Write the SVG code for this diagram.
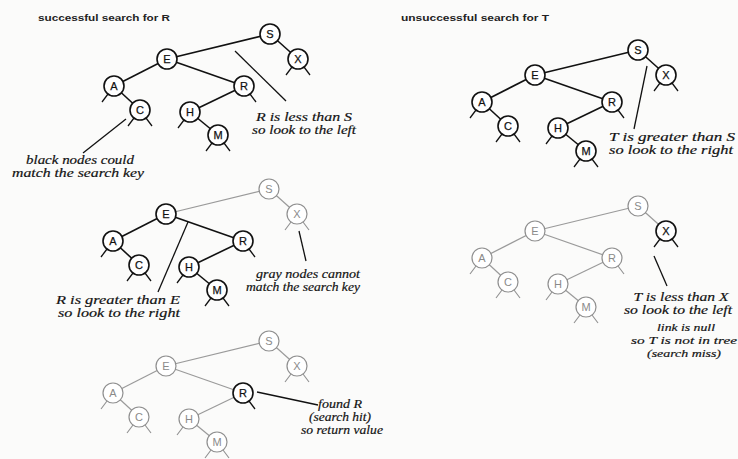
<svg xmlns="http://www.w3.org/2000/svg" width="738" height="459" viewBox="0 0 738 459">
<style>
.bg{fill:#fbfbfa}
.n circle{fill:#fff;stroke:#111;stroke-width:1.6}
.n text{font-family:"Liberation Sans",Arial,sans-serif;font-size:11px;fill:#111;stroke:#111;stroke-width:0.25;text-anchor:middle}
.n line{stroke:#111;stroke-width:1.3}
.g circle{stroke:#8f8f8f;stroke-width:1.2}
.g text{fill:#8a8a8a;stroke:none}
.g line{stroke:#8f8f8f;stroke-width:1.1}
.e{stroke:#111;stroke-width:1.6;fill:none}
.eg{stroke:#9a9a9a;stroke-width:1.2;fill:none}
.title{font-family:"Liberation Sans",Arial,sans-serif;font-size:9px;font-weight:bold;fill:#222}
.ann{font-family:"Liberation Serif","Times New Roman",serif;font-style:italic;font-size:12.5px;fill:#111;stroke:#111;stroke-width:0.18;text-anchor:middle}
.sm{font-size:11px}
.pt{stroke:#111;stroke-width:1.3}
</style>
<rect class="bg" width="738" height="459"/>
<text class="title" x="38" y="21" textLength="132" lengthAdjust="spacingAndGlyphs">successful search for R</text>
<text class="title" x="401" y="21" textLength="148" lengthAdjust="spacingAndGlyphs">unsuccessful search for T</text>

<g id="connectors">
  <line class="e" x1="270" y1="34" x2="167" y2="59"/>
  <line class="e" x1="270" y1="34" x2="298" y2="59"/>
  <line class="e" x1="167" y1="59" x2="114" y2="86"/>
  <line class="e" x1="167" y1="59" x2="244" y2="86"/>
  <line class="e" x1="114" y1="86" x2="140" y2="110"/>
  <line class="e" x1="244" y1="86" x2="190" y2="112"/>
  <line class="e" x1="190" y1="112" x2="218" y2="135"/>
  <line class="e" x1="638" y1="50" x2="535" y2="75"/>
  <line class="e" x1="638" y1="50" x2="666" y2="75"/>
  <line class="e" x1="535" y1="75" x2="482" y2="102"/>
  <line class="e" x1="535" y1="75" x2="612" y2="102"/>
  <line class="e" x1="482" y1="102" x2="508" y2="126"/>
  <line class="e" x1="612" y1="102" x2="558" y2="128"/>
  <line class="e" x1="558" y1="128" x2="586" y2="151"/>
  <line class="eg" x1="269" y1="189" x2="166" y2="214"/>
  <line class="eg" x1="269" y1="189" x2="297" y2="214"/>
  <line class="e" x1="166" y1="214" x2="113" y2="241"/>
  <line class="e" x1="166" y1="214" x2="243" y2="241"/>
  <line class="e" x1="113" y1="241" x2="139" y2="265"/>
  <line class="e" x1="243" y1="241" x2="189" y2="267"/>
  <line class="e" x1="189" y1="267" x2="217" y2="290"/>
  <line class="eg" x1="638" y1="206" x2="535" y2="231"/>
  <line class="eg" x1="638" y1="206" x2="666" y2="231"/>
  <line class="eg" x1="535" y1="231" x2="482" y2="258"/>
  <line class="eg" x1="535" y1="231" x2="612" y2="258"/>
  <line class="eg" x1="482" y1="258" x2="508" y2="282"/>
  <line class="eg" x1="612" y1="258" x2="558" y2="284"/>
  <line class="eg" x1="558" y1="284" x2="586" y2="307"/>
  <line class="eg" x1="269" y1="341" x2="166" y2="366"/>
  <line class="eg" x1="269" y1="341" x2="297" y2="366"/>
  <line class="eg" x1="166" y1="366" x2="113" y2="393"/>
  <line class="eg" x1="166" y1="366" x2="243" y2="393"/>
  <line class="eg" x1="113" y1="393" x2="139" y2="417"/>
  <line class="eg" x1="243" y1="393" x2="189" y2="419"/>
  <line class="eg" x1="189" y1="419" x2="217" y2="442"/>
  <line class="pt" x1="235" y1="51" x2="286" y2="101"/>
  <line class="pt" x1="126" y1="119" x2="83" y2="153"/>
  <line class="pt" x1="647" y1="66" x2="634" y2="129"/>
  <line class="pt" x1="188" y1="222" x2="158" y2="292"/>
  <line class="pt" x1="299" y1="231" x2="306" y2="261"/>
  <line class="pt" x1="654" y1="256" x2="667" y2="286"/>
  <line class="pt" x1="257" y1="392" x2="318" y2="405"/>
</g>

<g id="t1-S" class="n"><circle cx="270" cy="34" r="10"/><text x="270" y="38">S</text></g>
<g id="t1-X" class="n"><circle cx="298" cy="59" r="10"/><text x="298" y="63">X</text><line x1="292" y1="67" x2="286" y2="75"/><line x1="304" y1="67" x2="310" y2="75"/></g>
<g id="t1-E" class="n"><circle cx="167" cy="59" r="10"/><text x="167" y="63">E</text></g>
<g id="t1-A" class="n"><circle cx="114" cy="86" r="10"/><text x="114" y="90">A</text><line x1="108" y1="94" x2="102" y2="102"/></g>
<g id="t1-C" class="n"><circle cx="140" cy="110" r="10"/><text x="140" y="114">C</text><line x1="134" y1="118" x2="128" y2="126"/><line x1="146" y1="118" x2="152" y2="126"/></g>
<g id="t1-R" class="n"><circle cx="244" cy="86" r="10"/><text x="244" y="90">R</text><line x1="250" y1="94" x2="256" y2="102"/></g>
<g id="t1-H" class="n"><circle cx="190" cy="112" r="10"/><text x="190" y="116">H</text><line x1="184" y1="120" x2="178" y2="128"/></g>
<g id="t1-M" class="n"><circle cx="218" cy="135" r="10"/><text x="218" y="139">M</text><line x1="212" y1="143" x2="206" y2="151"/><line x1="224" y1="143" x2="230" y2="151"/></g>

<g id="t2-S" class="n"><circle cx="638" cy="50" r="10"/><text x="638" y="54">S</text></g>
<g id="t2-X" class="n"><circle cx="666" cy="75" r="10"/><text x="666" y="79">X</text><line x1="660" y1="83" x2="654" y2="91"/><line x1="672" y1="83" x2="678" y2="91"/></g>
<g id="t2-E" class="n"><circle cx="535" cy="75" r="10"/><text x="535" y="79">E</text></g>
<g id="t2-A" class="n"><circle cx="482" cy="102" r="10"/><text x="482" y="106">A</text><line x1="476" y1="110" x2="470" y2="118"/></g>
<g id="t2-C" class="n"><circle cx="508" cy="126" r="10"/><text x="508" y="130">C</text><line x1="502" y1="134" x2="496" y2="142"/><line x1="514" y1="134" x2="520" y2="142"/></g>
<g id="t2-R" class="n"><circle cx="612" cy="102" r="10"/><text x="612" y="106">R</text><line x1="618" y1="110" x2="624" y2="118"/></g>
<g id="t2-H" class="n"><circle cx="558" cy="128" r="10"/><text x="558" y="132">H</text><line x1="552" y1="136" x2="546" y2="144"/></g>
<g id="t2-M" class="n"><circle cx="586" cy="151" r="10"/><text x="586" y="155">M</text><line x1="580" y1="159" x2="574" y2="167"/><line x1="592" y1="159" x2="598" y2="167"/></g>

<g id="t3-S" class="n g"><circle cx="269" cy="189" r="10"/><text x="269" y="193">S</text></g>
<g id="t3-X" class="n g"><circle cx="297" cy="214" r="10"/><text x="297" y="218">X</text><line x1="291" y1="222" x2="285" y2="230"/><line x1="303" y1="222" x2="309" y2="230"/></g>
<g id="t3-E" class="n"><circle cx="166" cy="214" r="10"/><text x="166" y="218">E</text></g>
<g id="t3-A" class="n"><circle cx="113" cy="241" r="10"/><text x="113" y="245">A</text><line x1="107" y1="249" x2="101" y2="257"/></g>
<g id="t3-C" class="n"><circle cx="139" cy="265" r="10"/><text x="139" y="269">C</text><line x1="133" y1="273" x2="127" y2="281"/><line x1="145" y1="273" x2="151" y2="281"/></g>
<g id="t3-R" class="n"><circle cx="243" cy="241" r="10"/><text x="243" y="245">R</text><line x1="249" y1="249" x2="255" y2="257"/></g>
<g id="t3-H" class="n"><circle cx="189" cy="267" r="10"/><text x="189" y="271">H</text><line x1="183" y1="275" x2="177" y2="283"/></g>
<g id="t3-M" class="n"><circle cx="217" cy="290" r="10"/><text x="217" y="294">M</text><line x1="211" y1="298" x2="205" y2="306"/><line x1="223" y1="298" x2="229" y2="306"/></g>

<g id="t4-S" class="n g"><circle cx="638" cy="206" r="10"/><text x="638" y="210">S</text></g>
<g id="t4-X" class="n"><circle cx="666" cy="231" r="10"/><text x="666" y="235">X</text><line x1="660" y1="239" x2="654" y2="247"/><line x1="672" y1="239" x2="678" y2="247"/></g>
<g id="t4-E" class="n g"><circle cx="535" cy="231" r="10"/><text x="535" y="235">E</text></g>
<g id="t4-A" class="n g"><circle cx="482" cy="258" r="10"/><text x="482" y="262">A</text><line x1="476" y1="266" x2="470" y2="274"/></g>
<g id="t4-C" class="n g"><circle cx="508" cy="282" r="10"/><text x="508" y="286">C</text><line x1="502" y1="290" x2="496" y2="298"/><line x1="514" y1="290" x2="520" y2="298"/></g>
<g id="t4-R" class="n g"><circle cx="612" cy="258" r="10"/><text x="612" y="262">R</text><line x1="618" y1="266" x2="624" y2="274"/></g>
<g id="t4-H" class="n g"><circle cx="558" cy="284" r="10"/><text x="558" y="288">H</text><line x1="552" y1="292" x2="546" y2="300"/></g>
<g id="t4-M" class="n g"><circle cx="586" cy="307" r="10"/><text x="586" y="311">M</text><line x1="580" y1="315" x2="574" y2="323"/><line x1="592" y1="315" x2="598" y2="323"/></g>

<g id="t5-S" class="n g"><circle cx="269" cy="341" r="10"/><text x="269" y="345">S</text></g>
<g id="t5-X" class="n g"><circle cx="297" cy="366" r="10"/><text x="297" y="370">X</text><line x1="291" y1="374" x2="285" y2="382"/><line x1="303" y1="374" x2="309" y2="382"/></g>
<g id="t5-E" class="n g"><circle cx="166" cy="366" r="10"/><text x="166" y="370">E</text></g>
<g id="t5-A" class="n g"><circle cx="113" cy="393" r="10"/><text x="113" y="397">A</text><line x1="107" y1="401" x2="101" y2="409"/></g>
<g id="t5-C" class="n g"><circle cx="139" cy="417" r="10"/><text x="139" y="421">C</text><line x1="133" y1="425" x2="127" y2="433"/><line x1="145" y1="425" x2="151" y2="433"/></g>
<g id="t5-R" class="n"><circle cx="243" cy="393" r="10"/><text x="243" y="397">R</text><line x1="249" y1="401" x2="255" y2="409"/></g>
<g id="t5-H" class="n g"><circle cx="189" cy="419" r="10"/><text x="189" y="423">H</text><line x1="183" y1="427" x2="177" y2="435"/></g>
<g id="t5-M" class="n g"><circle cx="217" cy="442" r="10"/><text x="217" y="446">M</text><line x1="211" y1="450" x2="205" y2="458"/><line x1="223" y1="450" x2="229" y2="458"/></g>

<text class="ann" x="304" y="121" textLength="96" lengthAdjust="spacingAndGlyphs">R is less than S</text>
<text class="ann" x="304" y="134" textLength="104" lengthAdjust="spacingAndGlyphs">so look to the left</text>
<text class="ann" x="80" y="164" textLength="108" lengthAdjust="spacingAndGlyphs">black nodes could</text>
<text class="ann" x="78" y="177" textLength="132" lengthAdjust="spacingAndGlyphs">match the search key</text>
<text class="ann" x="672" y="141" textLength="126" lengthAdjust="spacingAndGlyphs">T is greater than S</text>
<text class="ann" x="671" y="154" textLength="124" lengthAdjust="spacingAndGlyphs">so look to the right</text>
<text class="ann" x="118" y="304" textLength="124" lengthAdjust="spacingAndGlyphs">R is greater than E</text>
<text class="ann" x="119" y="317" textLength="122" lengthAdjust="spacingAndGlyphs">so look to the right</text>
<text class="ann" x="308" y="278" textLength="104" lengthAdjust="spacingAndGlyphs">gray nodes cannot</text>
<text class="ann" x="303" y="291" textLength="114" lengthAdjust="spacingAndGlyphs">match the search key</text>
<text class="ann" x="681" y="301" textLength="95" lengthAdjust="spacingAndGlyphs">T is less than X</text>
<text class="ann" x="678" y="314" textLength="108" lengthAdjust="spacingAndGlyphs">so look to the left</text>
<text class="ann sm" x="686" y="331" textLength="58" lengthAdjust="spacingAndGlyphs">link is null</text>
<text class="ann sm" x="684" y="344" textLength="106" lengthAdjust="spacingAndGlyphs">so T is not in tree</text>
<text class="ann sm" x="684" y="357" textLength="74" lengthAdjust="spacingAndGlyphs">(search miss)</text>
<text class="ann" x="340" y="408" textLength="44" lengthAdjust="spacingAndGlyphs">found R</text>
<text class="ann" x="340" y="421" textLength="62" lengthAdjust="spacingAndGlyphs">(search hit)</text>
<text class="ann" x="342" y="434" textLength="82" lengthAdjust="spacingAndGlyphs">so return value</text>
</svg>
